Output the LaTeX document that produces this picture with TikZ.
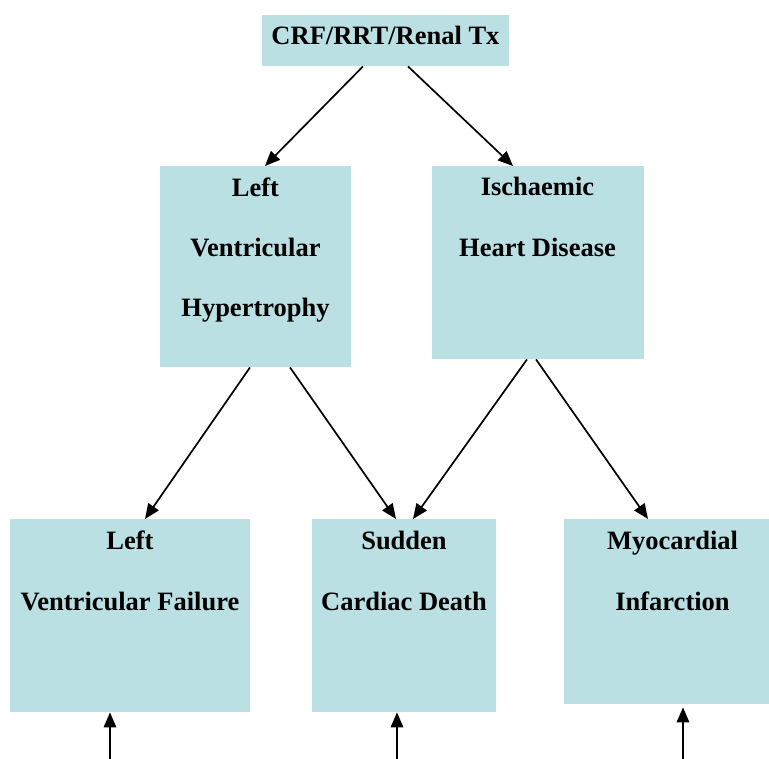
\documentclass[tikz,border=0pt]{standalone}
\usepackage{fontspec}
\setmainfont{Liberation Serif}
\usetikzlibrary{arrows.meta,calc}
\definecolor{boxfill}{RGB}{187,224,227}
\tikzset{
  box/.style={fill=boxfill, draw=none, rectangle, inner sep=0pt, anchor=north west},
  txt/.style={anchor=base, inner sep=0pt, font=\fontsize{26.5}{30}\selectfont\bfseries},
  arr/.style={line width=1.7pt, -{Triangle[length=15pt,width=12.5pt]}}
}
\begin{document}
\begin{tikzpicture}[x=1pt,y=-1pt]
\useasboundingbox (0,0) rectangle (769,759);
% boxes
\node[box, minimum width=247pt, minimum height=51pt] (top) at (262,15) {};
\node[box, minimum width=191pt, minimum height=201pt] (lvh) at (160,166) {};
\node[box, minimum width=212pt, minimum height=193pt] (ihd) at (432,166) {};
\node[box, minimum width=240pt, minimum height=193pt] (lvf) at (10,519) {};
\node[box, minimum width=184pt, minimum height=193pt] (scd) at (312,519) {};
\node[box, minimum width=217pt, minimum height=185pt] (mi) at (564,519) {};
% texts
\node[txt] (t1) at (385.5,45) {CRF/RRT/Renal Tx};
\node[txt] (lvh1) at (255.5,197) {Left};
\node[txt] (lvh2) at (255.5,257) {Ventricular};
\node[txt] (lvh3) at (255.5,317) {Hypertrophy};
\node[txt] (ihd1) at (537.5,196) {Ischaemic};
\node[txt] (ihd2) at (537.5,257) {Heart Disease};
\node[txt] (lvf1) at (130,549) {Left};
\node[txt] (lvf2) at (130,610) {Ventricular Failure};
\node[txt] (scd1) at (404,549) {Sudden};
\node[txt] (scd2) at (404,610) {Cardiac Death};
\node[txt] (mi1) at (672.5,549) {Myocardial};
\node[txt] (mi2) at (672.5,610) {Infarction};
% connectors
\draw[arr] ($(top.south west)+(101,0)$) -- ($(lvh.north west)+(105,0)$);
\draw[arr] ($(top.south west)+(146,0)$) -- ($(ihd.north west)+(81,0)$);
\draw[arr] ($(lvh.south west)+(90,0)$) -- ($(lvf.north west)+(135,0)$);
\draw[arr] ($(lvh.south west)+(130,0)$) -- ($(scd.north west)+(84,0)$);
\draw[arr] ($(ihd.south west)+(95,0)$) -- ($(scd.north west)+(101,0)$);
\draw[arr] ($(ihd.south west)+(104,0)$) -- ($(mi.north west)+(84,0)$);
% bottom incoming arrows
\coordinate (b1) at (110,760);
\coordinate (b2) at (397,760);
\coordinate (b3) at (683,760);
\draw[arr] (b1) -- ($(lvf.south west)+(100,0)$);
\draw[arr] (b2) -- ($(scd.south west)+(85,0)$);
\draw[arr] (b3) -- ($(mi.south west)+(119,3)$);
\end{tikzpicture}
\end{document}
